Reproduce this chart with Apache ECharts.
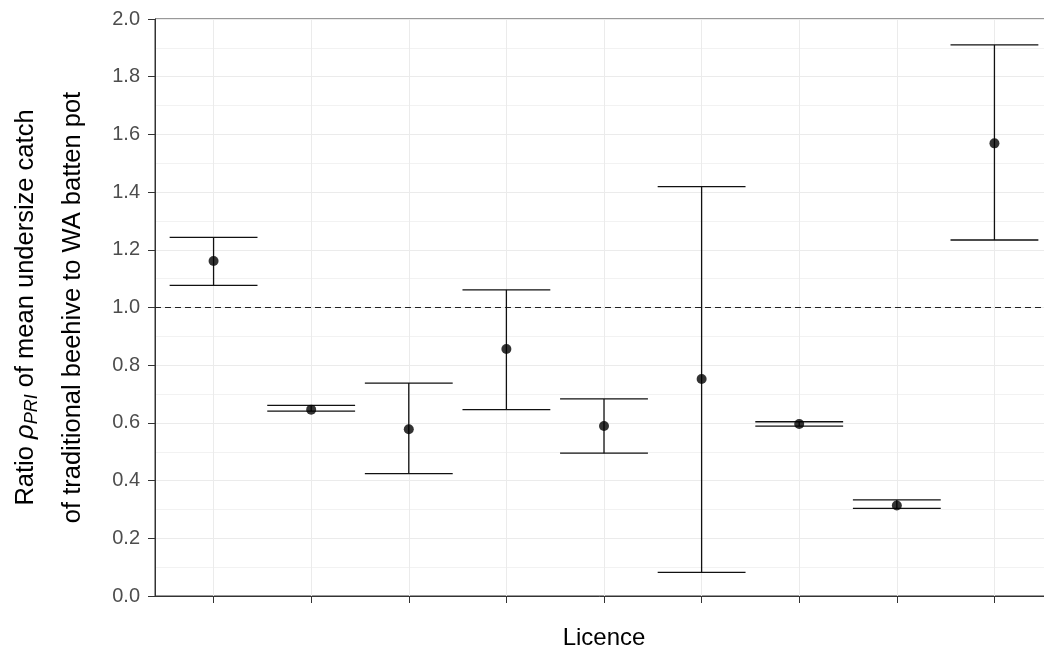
<!DOCTYPE html>
<html>
<head>
<meta charset="utf-8">
<script src="https://cdn.jsdelivr.net/npm/echarts@6/dist/echarts.min.js"></script>
<style>html,body{margin:0;padding:0;background:#fff}#c{width:1044px;height:652px}</style>
</head>
<body>
<div id="c"></div>
<script>
const categories = [1, 2, 3, 4, 5, 6, 7, 8, 9];
const meanRatio = [1.161, 0.646, 0.578, 0.856, 0.589, 0.752, 0.596, 0.314, 1.569];
const lowerCI  = [1.077, 0.641, 0.424, 0.646, 0.495, 0.082, 0.589, 0.304, 1.234];
const upperCI  = [1.243, 0.661, 0.738, 1.061, 0.683, 1.419, 0.604, 0.333, 1.910];
const yTicks = [0, 0.2, 0.4, 0.6, 0.8, 1.0, 1.2, 1.4, 1.6, 1.8, 2.0];
const refLine = 1.0;

const barData = categories.map((c, i) => [c, lowerCI[i], upperCI[i]]);
const pointData = categories.map((c, i) => [c, meanRatio[i]]);

const chart = echarts.init(document.getElementById('c'));
chart.setOption({
  animation: false,
  backgroundColor: '#fff',
  grid: { left: 155, top: 19, bottom: 56, right: -9, containLabel: false, outerBoundsMode: 'none',
          show: true, borderColor: '#333', borderWidth: 1, backgroundColor: 'transparent' },
  xAxis: {
    type: 'value', min: 0.4, max: 9.6,
    name: 'Licence', nameLocation: 'middle', nameGap: 30,
    nameTextStyle: { fontFamily: 'Liberation Sans', fontSize: 24, color: '#000' },
    axisLine: { show: true, lineStyle: { color: '#333', width: 1 } },
    axisTick: { show: true, length: 7, customValues: categories, lineStyle: { color: '#333' } },
    axisLabel: { show: false, customValues: categories },
    splitLine: { show: true, lineStyle: { color: '#ebebeb', width: 1 } }
  },
  yAxis: {
    type: 'value', min: 0, max: 2, interval: 0.2,
    name: '{n|Ratio }{g|ρ}{s|PRI}{n| of mean undersize catch}\n{n|of traditional beehive to WA batten pot}',
    nameLocation: 'middle', nameGap: 59,
    nameTextStyle: {
      fontFamily: 'Liberation Sans', fontSize: 25.5, color: '#000', lineHeight: 47, align: 'center',
      rich: {
        n: { fontFamily: 'Liberation Sans', fontSize: 25.5, color: '#000', lineHeight: 47 },
        g: { fontFamily: 'Liberation Sans', fontSize: 25.5, fontStyle: 'italic', color: '#000', lineHeight: 47 },
        s: { fontFamily: 'Liberation Sans', fontSize: 18, fontStyle: 'italic', color: '#000', lineHeight: 47, padding: [13, 0, 0, 0] }
      }
    },
    axisLine: { show: true, lineStyle: { color: '#333', width: 1 } },
    axisTick: { show: true, length: 7, lineStyle: { color: '#333' } },
    axisLabel: { fontFamily: 'Liberation Sans', fontSize: 20, color: '#4d4d4d', margin: 15,
      formatter: v => yTicks.some(t => Math.abs(t - v) < 1e-9) ? v.toFixed(1) : '' },
    splitLine: { show: true, lineStyle: { color: '#ebebeb', width: 1 } },
    minorTick: { show: false, splitNumber: 2 },
    minorSplitLine: { show: true, lineStyle: { color: '#f2f2f2', width: 1 } }
  },
  series: [
    {
      type: 'line', data: [[0.4, refLine], [9.6, refLine]], symbol: 'none', silent: true,
      lineStyle: { color: '#222', width: 1, type: [6, 4] }, z: 2
    },
    {
      type: 'custom', data: barData, z: 3,
      renderItem: function (params, api) {
        const x = api.value(0);
        const lo = api.coord([x, api.value(1)]);
        const hi = api.coord([x, api.value(2)]);
        const half = api.size([0.45, 0])[0];
        const st = { stroke: '#111', lineWidth: 1.3 };
        return { type: 'group', children: [
          { type: 'line', shape: { x1: lo[0], y1: lo[1], x2: hi[0], y2: hi[1] }, style: st },
          { type: 'line', shape: { x1: lo[0] - half, y1: lo[1], x2: lo[0] + half, y2: lo[1] }, style: st },
          { type: 'line', shape: { x1: hi[0] - half, y1: hi[1], x2: hi[0] + half, y2: hi[1] }, style: st }
        ]};
      }
    },
    {
      type: 'scatter', data: pointData, symbol: 'circle', symbolSize: 10, z: 4,
      itemStyle: { color: '#000' }
    }
  ]
});
</script>
</body>
</html>
